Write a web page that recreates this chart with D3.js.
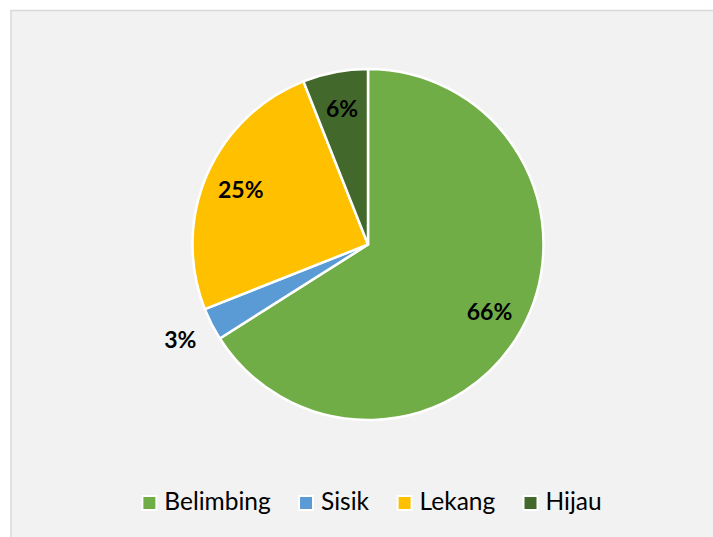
<!DOCTYPE html>
<html>
<head>
<meta charset="utf-8">
<script src="https://cdn.jsdelivr.net/npm/d3@7"></script>
<style>
  body { margin: 0; background: #fff; }
  svg { display: block; }
</style>
</head>
<body>
<div id="chart"></div>
<script>
// data
var categories = ["Belimbing", "Sisik", "Lekang", "Hijau"];
var values = [66, 3, 25, 6];
var colors = ["#70ad47", "#5b9bd5", "#ffc000", "#43682b"];

var width = 713, height = 537;
var cx = 368, cy = 244.5, radius = 175.5;

var svg = d3.select("#chart")
    .append("svg")
    .attr("width", width)
    .attr("height", height);

// chart area background (cropped on right/bottom)
svg.append("rect")
    .attr("x", 11)
    .attr("y", 10.5)
    .attr("width", width)
    .attr("height", height)
    .style("fill", "#f2f2f2")
    .style("stroke", "#d9d9d9")
    .style("stroke-width", 1.5);

var data = categories.map(function(c, i) {
    return { name: c, value: values[i], color: colors[i] };
});

var total = d3.sum(values);

var pie = d3.pie()
    .value(function(d) { return d.value; })
    .sort(null);

var arcs = pie(data);

var arc = d3.arc().innerRadius(0).outerRadius(radius);
var labelArc = d3.arc().innerRadius(radius * 0.79).outerRadius(radius * 0.79);
var outerArc = d3.arc().innerRadius(radius * 1.2).outerRadius(radius * 1.2);

var g = svg.append("g")
    .attr("transform", "translate(" + cx + "," + cy + ")");

g.selectAll(".slice")
    .data(arcs)
    .enter()
    .append("path")
    .attr("class", "slice")
    .attr("d", arc)
    .style("fill", function(d) { return d.data.color; })
    .style("stroke", "#fff")
    .style("stroke-width", 2.5)
    .style("stroke-linejoin", "round");

// small slices get their label outside the pie
g.selectAll(".label")
    .data(arcs)
    .enter()
    .append("text")
    .attr("class", "label")
    .attr("transform", function(d) {
        var small = d.data.value / total < 0.05;
        var p = small ? outerArc.centroid(d) : labelArc.centroid(d);
        return "translate(" + p + ")";
    })
    .attr("text-anchor", "middle")
    .attr("dy", "0.36em")
    .text(function(d) { return d3.format(".0%")(d.data.value / total); })
    .style("font-family", "Lato, 'Noto Sans', sans-serif")
    .style("font-weight", "bold")
    .style("font-size", "23px")
    .style("fill", "#000");

// legend
var legend = svg.append("g").attr("class", "legend");
var items = legend.selectAll(".item")
    .data(data)
    .enter()
    .append("g")
    .attr("class", "item");

items.append("rect")
    .attr("width", 14)
    .attr("height", 14)
    .attr("y", -14)
    .style("fill", function(d) { return d.color; })
    .style("stroke", "#fff")
    .style("stroke-width", 2);

items.append("text")
    .attr("x", 22)
    .text(function(d) { return d.name; })
    .style("font-family", "Lato, 'Noto Sans', sans-serif")
    .style("font-size", "24.5px")
    .style("fill", "#000");

var xpos = 0;
items.each(function() {
    var w = this.getBBox().width;
    d3.select(this).attr("transform", "translate(" + xpos + ",0)");
    xpos += w + 28;
});
var legendWidth = xpos - 28;
legend.attr("transform", "translate(" + (372 - legendWidth / 2) + ",510)");
</script>
</body>
</html>
